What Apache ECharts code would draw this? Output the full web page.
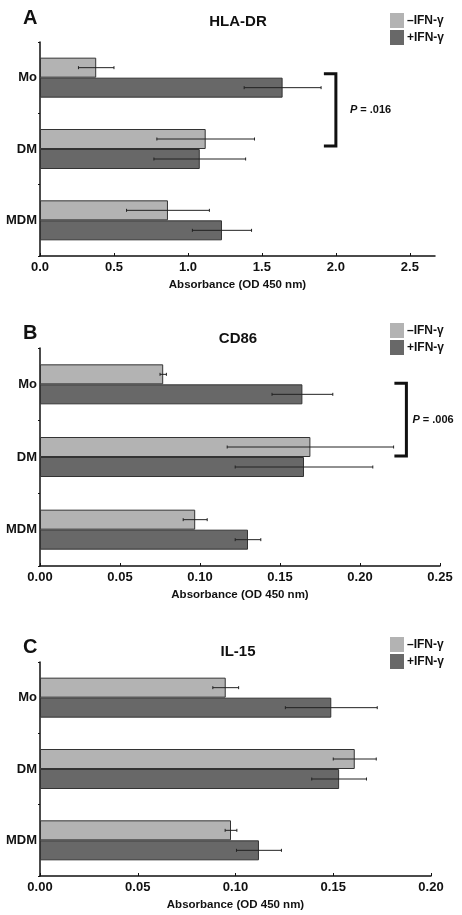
<!DOCTYPE html>
<html><head><meta charset="utf-8">
<script src="https://cdn.jsdelivr.net/npm/echarts@6/dist/echarts.min.js"></script>
<style>html,body{margin:0;padding:0;background:#fff;}#c{width:462px;height:915px;}</style>
</head><body><div id="c"></div>
<script>
const categories = ['Mo', 'DM', 'MDM'];
const seriesNames = ['\u2013IFN-\u03b3', '+IFN-\u03b3'];
// Panel A: HLA-DR
const hlaMinus = [0.38, 1.12, 0.865];
const hlaMinusErr = [0.12, 0.33, 0.28];
const hlaPlus = [1.64, 1.08, 1.23];
const hlaPlusErr = [0.26, 0.31, 0.20];
const hlaTicks = [0, 0.5, 1.0, 1.5, 2.0, 2.5];
// Panel B: CD86
const cd86Minus = [0.077, 0.169, 0.097];
const cd86MinusErr = [0.002, 0.052, 0.0075];
const cd86Plus = [0.164, 0.165, 0.130];
const cd86PlusErr = [0.019, 0.043, 0.008];
const cd86Ticks = [0, 0.05, 0.10, 0.15, 0.20, 0.25];
// Panel C: IL-15
const il15Minus = [0.095, 0.161, 0.0977];
const il15MinusErr = [0.0066, 0.011, 0.003];
const il15Plus = [0.149, 0.153, 0.112];
const il15PlusErr = [0.0235, 0.014, 0.0115];
const il15Ticks = [0, 0.05, 0.10, 0.15, 0.20];
const titles = ['HLA-DR', 'CD86', 'IL-15'];
const letters = ['A', 'B', 'C'];
const pLabels = ['.016', '.006', null];
const axisName = 'Absorbance (OD 450 nm)';

const FONT = 'Liberation Sans, Arial, Helvetica, sans-serif';
const LIGHT = '#b3b3b3', DARK = '#686868';

const panels = [
  {minus: hlaMinus, minusErr: hlaMinusErr, plus: hlaPlus, plusErr: hlaPlusErr, ticks: hlaTicks, max: 2.67, dec: 1,
   grid: {left: 40, top: 42, width: 395, height: 214}, letterTop: 8, titleTop: 14, legendTop: 13,
   bracketX: 2.0, textGap: 14, bOff: [-4, -3]},
  {minus: cd86Minus, minusErr: cd86MinusErr, plus: cd86Plus, plusErr: cd86PlusErr, ticks: cd86Ticks, max: 0.25, dec: 2,
   grid: {left: 40, top: 348, width: 400, height: 218}, letterTop: 323, titleTop: 331, legendTop: 323,
   bracketX: 0.229, textGap: 6, bOff: [-1, -1]},
  {minus: il15Minus, minusErr: il15MinusErr, plus: il15Plus, plusErr: il15PlusErr, ticks: il15Ticks, max: 0.20, dec: 2,
   grid: {left: 40, top: 662, width: 391, height: 214}, letterTop: 637, titleTop: 644, legendTop: 637,
   bracketX: null, textGap: 0, bOff: [0, 0]}
];

function errRender(sign) {
  return function (params, api) {
    const cat = api.value(0), v = api.value(1), e = api.value(2);
    const c = api.coord([v, cat]);
    const lo = api.coord([v - e, cat]);
    const hi = api.coord([v + e, cat]);
    const y = c[1] + sign * 10;
    const st = {stroke: '#222', lineWidth: 1};
    return {type: 'group', children: [
      {type: 'line', shape: {x1: lo[0], y1: y, x2: hi[0], y2: y}, style: st},
      {type: 'line', shape: {x1: lo[0], y1: y - 1.5, x2: lo[0], y2: y + 1.5}, style: st},
      {type: 'line', shape: {x1: hi[0], y1: y - 1.5, x2: hi[0], y2: y + 1.5}, style: st}
    ]};
  };
}

function bracketRender(label, gap, off) {
  return function (params, api) {
    const xv = api.value(0);
    const a = api.coord([xv, 0]);
    const b = api.coord([xv, 1]);
    const top = a[1] + off[0], bot = b[1] + off[1];
    const st = {stroke: '#111', lineWidth: 3, fill: null};
    return {type: 'group', children: [
      {type: 'polyline', shape: {points: [[a[0] - 12, top], [a[0], top], [b[0], bot], [b[0] - 12, bot]]}, style: st},
      {type: 'text', x: a[0] + gap, y: (top + bot) / 2, style: {
        text: '{i|P} = ' + label, textVerticalAlign: 'middle', textAlign: 'left',
        font: 'bold 11px ' + FONT, fill: '#111',
        rich: {i: {fontStyle: 'italic', fontWeight: 'bold', fontSize: 11, fontFamily: FONT}}
      }}
    ]};
  };
}

const option = {
  animation: false,
  backgroundColor: '#fff',
  title: [], legend: [], grid: [], xAxis: [], yAxis: [], series: []
};

panels.forEach((p, i) => {
  option.grid.push(p.grid);
  option.title.push({text: letters[i], left: 23, top: p.letterTop, padding: 0,
    textStyle: {fontFamily: FONT, fontWeight: 'bold', fontSize: 20, color: '#111'}});
  option.title.push({text: titles[i], left: 238, top: p.titleTop, textAlign: 'center', padding: 0,
    textStyle: {fontFamily: FONT, fontWeight: 'bold', fontSize: 15, color: '#111'}});
  option.legend.push({
    data: seriesNames, orient: 'vertical', left: 390, top: p.legendTop, padding: 0,
    itemWidth: 14, itemHeight: 15, itemGap: 2, icon: 'rect',
    itemStyle: {borderWidth: 0},
    textStyle: {fontFamily: FONT, fontWeight: 'bold', fontSize: 12, color: '#111', padding: [0, 0, 0, -2]},
    selectedMode: false
  });
  option.xAxis.push({
    type: 'value', gridIndex: i, min: 0, max: p.max,
    name: axisName, nameLocation: 'middle', nameGap: 23,
    nameTextStyle: {fontFamily: FONT, fontWeight: 'bold', fontSize: 11.5, color: '#111'},
    axisLine: {show: true, lineStyle: {color: '#111', width: 1.5}},
    axisTick: {show: true, length: 3, inside: true, customValues: p.ticks, lineStyle: {color: '#111'}},
    axisLabel: {customValues: p.ticks, margin: 5, fontFamily: FONT, fontWeight: 'bold', fontSize: 13, color: '#111',
      formatter: v => v.toFixed(p.dec)},
    splitLine: {show: false}
  });
  option.yAxis.push({
    type: 'category', gridIndex: i, data: categories, inverse: true,
    axisLine: {show: true, lineStyle: {color: '#111', width: 1.5}},
    axisTick: {show: true, length: 2, lineStyle: {color: '#111'}},
    axisLabel: {margin: 3, fontFamily: FONT, fontWeight: 'bold', fontSize: 13, color: '#111'}
  });
  const bs = {borderColor: '#333', borderWidth: 1};
  option.series.push({
    name: seriesNames[0], type: 'bar', xAxisIndex: i, yAxisIndex: i, data: p.minus,
    barWidth: 20, barGap: '0%', itemStyle: Object.assign({color: LIGHT}, bs)
  });
  option.series.push({
    name: seriesNames[1], type: 'bar', xAxisIndex: i, yAxisIndex: i, data: p.plus,
    barWidth: 20, barGap: '0%', itemStyle: Object.assign({color: DARK}, bs)
  });
  option.series.push({
    type: 'custom', xAxisIndex: i, yAxisIndex: i, renderItem: errRender(-1),
    data: p.minus.map((v, k) => [k, v, p.minusErr[k]]), encode: {y: 0, x: 1}, z: 5
  });
  option.series.push({
    type: 'custom', xAxisIndex: i, yAxisIndex: i, renderItem: errRender(1),
    data: p.plus.map((v, k) => [k, v, p.plusErr[k]]), encode: {y: 0, x: 1}, z: 5
  });
  if (p.bracketX !== null) {
    option.series.push({
      type: 'custom', xAxisIndex: i, yAxisIndex: i, renderItem: bracketRender(pLabels[i], p.textGap, p.bOff),
      data: [[p.bracketX, 0]], encode: {x: 0, y: 1}, z: 6, clip: false
    });
  }
});

const chart = echarts.init(document.getElementById('c'), null, {renderer: 'canvas'});
chart.setOption(option);
</script>
</body></html>
